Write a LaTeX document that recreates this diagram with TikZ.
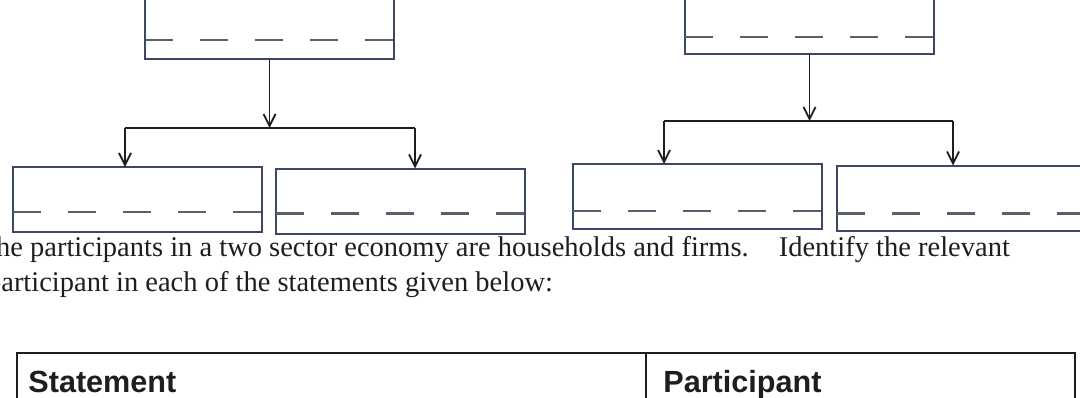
\documentclass[tikz,border=0pt]{standalone}
\usepackage{fontspec}
\setmainfont{Liberation Serif}
\newfontfamily\headfont{Liberation Sans}
\usetikzlibrary{arrows.meta}

\definecolor{boxline}{RGB}{58,72,102}
\definecolor{dashline}{RGB}{88,96,110}
\definecolor{inkline}{RGB}{30,30,30}

\begin{document}
\begin{tikzpicture}[
                x=0.5pt, y=-0.5pt,
                boxnode/.style={
                        draw=boxline,
                        line width=1pt,
                        rectangle,
                        minimum width=124.5pt,
                        minimum height=32.5pt,
                        inner sep=0pt,
                        outer sep=0pt
                    },
                topbox/.style={
                        boxnode,
                        minimum height=55pt
                    },
                divider/.style={
                        draw=dashline,
                        line width=1.2pt,
                        dash pattern=on 13.75pt off 13.75pt
                    },
                link/.style={
                        draw=inkline,
                        line width=0.9pt
                    },
                arrowlink/.style={
                        link,
                        -{Straight Barb[length=6pt,width=6pt]}
                    },
                textnode/.style={
                        inner sep=0pt,
                        anchor=base west,
                        text=inkline,
                        font=\fontsize{14.25}{17}\selectfont
                    },
                headnode/.style={
                        textnode,
                        font=\headfont\bfseries\fontsize{15.3}{18}\selectfont
                    },
                tableline/.style={
                        draw=inkline,
                        line width=1pt
                    }
            ]

            \useasboundingbox (0,0) rectangle (1080,397);
            \clip (0,0) rectangle (1080,397);

            % Boxes of the two trees
            \node[topbox] (A) at (269.5,4) {};
            \node[boxnode] (B1) at (137.5,199.5) {};
            \node[boxnode] (B2) at (400.5,201) {};
            \node[topbox] (C) at (809.5,-1) {};
            \node[boxnode] (D1) at (697.5,196.5) {};
            \node[boxnode] (D2) at (961.5,198) {};

            % Dashed lines near the bottom of each box
            \foreach \b/\s in {A/9.5pt,B1/10pt,B2/10pt,C/8.5pt,D1/9pt,D2/8.5pt}
                \draw[divider] ([yshift=\s]\b.south west) -- ([yshift=\s]\b.south east);

            % Branching arrows
            \coordinate (Aleft) at (125,128);
            \coordinate (Aright) at (415,128);
            \draw[arrowlink] (A.south) -- (A.south |- Aleft);
            \draw[link] (Aleft) -- (Aright);
            \draw[arrowlink] (Aleft) -- (Aleft |- B1.north);
            \draw[arrowlink] (Aright) -- (Aright |- B2.north);

            \coordinate (Cleft) at (664,121);
            \coordinate (Cright) at (953,121);
            \draw[arrowlink] (C.south) -- (C.south |- Cleft);
            \draw[link] (Cleft) -- (Cright);
            \draw[arrowlink] (Cleft) -- (Cleft |- D1.north);
            \draw[arrowlink] (Cright) -- (Cright |- D2.north);

            % Question text
            \node[textnode] (line1) at (-21.7,256) {The participants in a two sector economy are households and firms.\hspace{15pt}Identify the relevant};
            \node[textnode] (line2) at (-13.3,291) {participant in each of the statements given below:};

            % Table header
            \draw[tableline] (17,420) |- (1075,353) -- (1075,420);
            \draw[tableline] (646,353) -- (646,420);
            \node[headnode] (stmt) at (28,392) {Statement};
            \node[headnode] (part) at (663,392) {Participant};

        \end{tikzpicture}
\end{document}
